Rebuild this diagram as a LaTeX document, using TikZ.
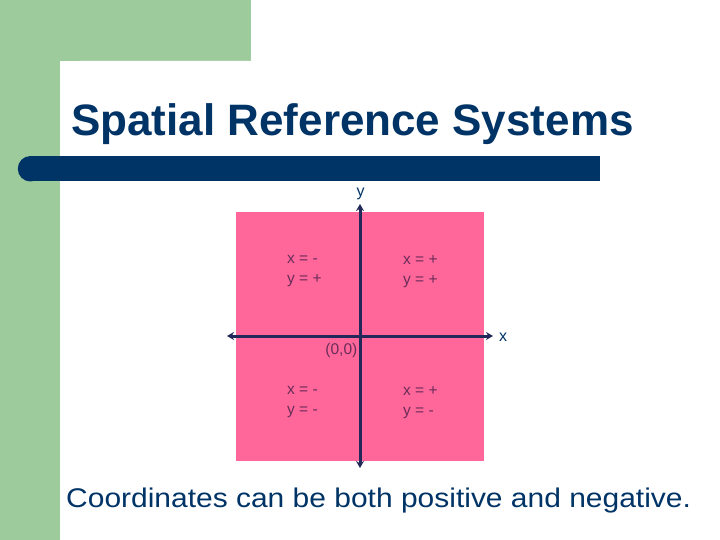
\documentclass[tikz,border=0pt]{standalone}
\usepackage{fontspec}
\setmainfont{Liberation Sans}
\usetikzlibrary{arrows.meta}
\definecolor{sidegreen}{RGB}{158,203,156}
\definecolor{navy}{RGB}{0,51,102}
\definecolor{pinkq}{RGB}{255,102,153}
\definecolor{axisc}{RGB}{35,40,90}
\definecolor{quadtext}{RGB}{105,45,90}
\tikzset{
  quad/.style={text=quadtext, font=\fontsize{15.5bp}{20bp}\selectfont, align=left, anchor=north west, inner sep=0pt},
  axislabel/.style={text=navy, font=\fontsize{16bp}{18bp}\selectfont, inner sep=0pt},
  axisline/.style={draw=axisc, line width=3bp, {Stealth[length=7bp,width=8bp]}-{Stealth[length=7bp,width=8bp]}}
}
\begin{document}
\begin{tikzpicture}[x=1bp,y=-1bp]
\useasboundingbox (0,0) rectangle (720,540);
\clip (0,0) rectangle (720,540);
\fill[white] (0,0) rectangle (720,540);
\fill[sidegreen] (0,0) rectangle (251,61);
\fill[sidegreen] (0,0) rectangle (60,540);
\fill[white, rounded corners=20bp] (60,61) rectangle (800,620);
% title bar
\fill[navy] (30.5,156) rectangle (600,181.5);
\fill[navy] (30.5,168.75) circle (12.75);
\node[anchor=base west, inner sep=0pt, text=navy, font=\bfseries\fontsize{44bp}{48bp}\selectfont] (title) at (71,136) {Spatial Reference Systems};
% pink square
\fill[pinkq] (236,212) rectangle (484,461);
% quadrant labels
\node[quad] (q2) at (287,255) {x = -\\y = +};
\node[quad] (q1) at (403,255) {x = +\\y = +};
\node[quad] (q3) at (287,386) {x = -\\y = -};
\node[quad] (q4) at (403,386) {x = +\\y = -};
\node[anchor=base east, inner sep=0pt, text=quadtext, font=\fontsize{15.5bp}{18bp}\selectfont] (origin) at (357.5,354) {(0,0)};
% axes
\coordinate (ytop) at (360,204);
\coordinate (ybot) at (360,468);
\coordinate (xl) at (227,336);
\coordinate (xr) at (493,336);
\draw[axisline] (ybot) -- (ytop);
\draw[axisline] (xl) -- (xr);
\node[axislabel, anchor=base] (ylab) at (360.5,197) {y};
\node[axislabel, anchor=base] (xlab) at (503,341) {x};
% bottom text
\node[anchor=base west, inner sep=0pt, text=navy, font=\fontsize{27bp}{30bp}\selectfont, xscale=1.11] (note) at (66,507) {Coordinates can be both positive and negative.};
\end{tikzpicture}
\end{document}
